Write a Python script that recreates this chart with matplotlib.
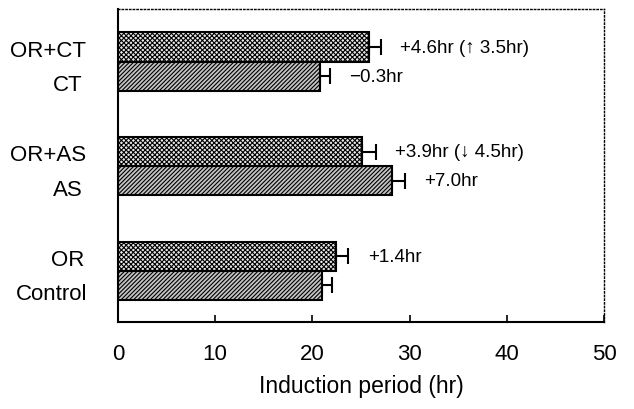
import numpy as np
import matplotlib
matplotlib.use("Agg")
import matplotlib.pyplot as plt

plt.rcParams['font.family'] = ['Liberation Sans', 'DejaVu Sans']
plt.rcParams['hatch.linewidth'] = 0.8

# groups from bottom to top
base_labels = ["Control", "AS", "CT"]
or_labels = ["OR", "OR+AS", "OR+CT"]
base_vals = [21.0, 28.2, 20.8]
base_err = [1.0, 1.3, 1.0]
or_vals = [22.4, 25.1, 25.8]
or_err = [1.3, 1.4, 1.2]
or_notes = ["+1.4hr", "+3.9hr (\u2193 4.5hr)", "+4.6hr (\u2191 3.5hr)"]
base_notes = ["", "+7.0hr", "\u22120.3hr"]
xticks = [0, 10, 20, 30, 40, 50]

fig = plt.figure(figsize=(6.34, 4.10), dpi=100)
ax = fig.add_axes([0.186, 0.212, 0.767, 0.764])

y = np.arange(len(base_labels))
h = 0.278

ax.barh(y + h / 2, or_vals, height=h, color="#e8e8e8", edgecolor="black",
        hatch="xxxxxxx", linewidth=1.5, zorder=2)
ax.barh(y - h / 2, base_vals, height=h, color="#c4c4c4", edgecolor="black",
        hatch="////////", linewidth=1.5, zorder=2)
ax.errorbar(or_vals, y + h / 2, xerr=[np.zeros(3), or_err], fmt="none",
            ecolor="black", elinewidth=1.5, capsize=6, capthick=1.5, zorder=3)
ax.errorbar(base_vals, y - h / 2, xerr=[np.zeros(3), base_err], fmt="none",
            ecolor="black", elinewidth=1.5, capsize=6, capthick=1.5, zorder=3)

for i in range(len(y)):
    ax.annotate(or_notes[i], (or_vals[i] + or_err[i], y[i] + h / 2),
                xytext=(14, 0), textcoords="offset points", va="center",
                ha="left", fontsize=13.5)
    if base_notes[i]:
        ax.annotate(base_notes[i], (base_vals[i] + base_err[i], y[i] - h / 2),
                    xytext=(14, 0), textcoords="offset points", va="center",
                    ha="left", fontsize=13.5)
    # left-side labels
    ax.annotate(or_labels[i], (0, y[i] + h / 2 - 0.03), xycoords=("axes fraction", "data"),
                xytext=(-50 if len(or_labels[i]) > 2 else -36, 0),
                textcoords="offset points", ha="center", va="center", fontsize=16)
    ax.annotate(base_labels[i], (0, y[i] - h / 2 - 0.08), xycoords=("axes fraction", "data"),
                xytext=(-48 if len(base_labels[i]) > 2 else -36, 0),
                textcoords="offset points", ha="center", va="center", fontsize=16)

ax.set_xlim(0, 50)
ax.set_ylim(-0.49, 2.504)
ax.set_xticks(xticks)
ax.set_yticks([])
ax.tick_params(axis="x", direction="in", length=5, width=1.2, pad=15, labelsize=16)
ax.set_xlabel("Induction period (hr)", fontsize=16.5, labelpad=7)

for s in ["left", "bottom"]:
    ax.spines[s].set_linewidth(1.5)
for s in ["top", "right"]:
    ax.spines[s].set_linewidth(1.0)
    ax.spines[s].set_linestyle(":")

fig.savefig("out.png", dpi=100)
